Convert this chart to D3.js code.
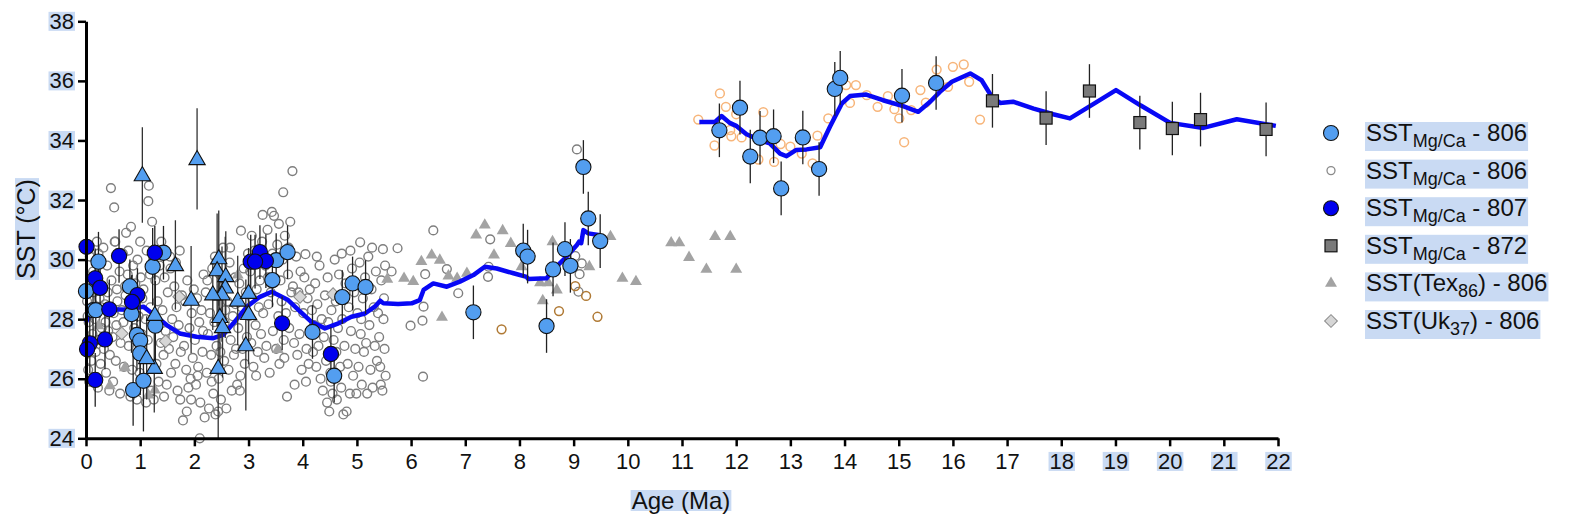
<!DOCTYPE html>
<html>
<head>
<meta charset="utf-8">
<script src="https://cdn.jsdelivr.net/npm/d3@7"></script>
<style>
  html, body { margin: 0; padding: 0; background: #fff; }
  svg { display: block; font-family: "Liberation Sans", Arial, sans-serif; }
</style>
</head>
<body>
<svg id="chart" width="1569" height="525"></svg>
<script>
// ---- Data: [age (Ma), SST (°C), ±error] ----
const mgca806 = [
  [0.0,28.94,0.9],[0.23,29.93,1.0],[0.13,28.3,1.0],[0.18,28.3,1.0],[0.81,29.1,0.9],[0.84,28.17,1.3],
  [0.94,27.47,1.2],[1.0,27.28,1.3],[1.0,26.85,1.4],[0.87,25.62,1.2],[1.06,25.93,1.7],[1.28,27.78,1.5],
  [1.23,29.76,1.3],[1.43,30.23,0.9],[3.44,29.31,0.9],[3.51,29.98,0.9],[3.72,30.25,0.9],[4.18,27.57,0.9],
  [4.58,26.1,0.9],[4.73,28.74,0.9],[4.92,29.2,0.9],[5.16,29.08,0.9],[7.15,28.23,0.9],[8.07,30.3,0.9],
  [8.15,30.1,0.9],[8.5,27.77,0.9],[8.62,29.67,0.9],[8.84,30.35,0.9],[8.94,29.79,0.9],[9.18,33.11,0.9],
  [9.27,31.38,0.9],[9.49,30.62,0.9],[11.69,34.34,0.9],[12.07,35.1,0.9],[12.26,33.46,0.9],[12.44,34.09,0.9],
  [12.69,34.14,0.9],[12.83,32.39,0.9],[13.23,34.1,0.9],[13.53,33.04,0.9],[13.82,35.73,0.9],[13.92,36.1,0.9],
  [15.06,35.5,0.9],[15.69,35.93,0.9]
];

const mgca807 = [
  [0.01,30.43,1.0],[0.17,29.37,1.0],[0.26,29.05,1.0],[0.43,28.33,1.0],[0.35,27.32,1.0],[0.07,27.19,1.0],
  [0.02,26.99,0.9],[0.17,25.96,0.9],[0.61,30.12,0.9],[1.27,30.23,0.9],[0.95,28.81,0.9],[0.85,28.58,0.9],
  [3.04,29.93,0.9],[3.21,30.25,0.9],[3.32,29.95,0.9],[3.12,29.93,0.9],[3.62,27.86,0.9],[4.52,26.83,0.9]
];

const mgca872 = [
  [16.73,35.33,0.9],[17.72,34.75,0.9],[18.52,35.66,0.9],[19.45,34.6,0.9],[20.05,34.4,0.9],
  [20.57,34.7,0.9],[21.78,34.37,0.9]
];

// Planktonic Mg/Ca triangles with wide error bars
const mgcaTri = [
  [1.04,32.84,1.6],[2.05,33.38,1.7],[1.65,29.82,1.5],[1.94,28.66,1.8],[1.26,26.37,1.5],[1.27,28.15,1.6],
  [1.12,26.7,1.4],[2.45,30.05,1.6],[2.42,29.65,1.9],[2.58,29.45,1.5],[2.57,29.07,1.7],[2.51,28.84,1.6],
  [2.34,28.84,1.2],[2.47,28.08,1.6],[2.52,27.74,1.7],[2.44,26.37,2.4],[2.8,28.63,1.5],[3.0,28.89,1.5],
  [3.0,28.18,1.7],[2.95,27.13,2.2]
];

// Open-circle Mg/Ca record, site 806
const mgca806open = [
  [0.02,28.6],[0.05,27.9],[0.08,29.2],[0.1,26.6],[0.12,27.5],[0.04,26.3],[0.14,28.9],[0.07,30.1],[0.11,27.1],[0.13,29.6],[0.03,28.1],[0.06,25.9],
  [0.17,28.0],[0.19,29.5],[0.21,27.3],[0.23,30.2],[0.25,28.7],[0.27,26.5],[0.29,27.7],[0.18,26.9],[0.22,25.7],[0.26,29.9],[0.28,28.4],[0.2,30.6],
  [0.31,29.0],[0.33,27.0],[0.35,28.5],[0.37,26.2],[0.39,29.8],[0.41,27.6],[0.43,25.6],[0.32,30.4],[0.36,27.9],[0.4,28.9],[0.44,26.8],[0.46,32.4],
  [0.47,29.3],[0.49,27.4],[0.51,28.2],[0.53,30.6],[0.55,26.6],[0.57,29.0],[0.52,31.75],[0.5,25.9],[0.56,27.8],[0.58,28.6],[0.54,30.6],
  [0.62,29.6],[0.64,27.2],[0.66,28.3],[0.68,30.2],[0.7,26.4],[0.72,29.1],[0.74,30.9],[0.63,25.5],[0.69,27.9],[0.73,28.8],
  [0.77,29.5],[0.79,27.1],[0.81,28.4],[0.83,31.1],[0.85,26.3],[0.87,29.8],[0.89,27.7],[0.78,30.3],[0.82,25.4],[0.86,28.9],
  [0.91,29.2],[0.93,27.0],[0.95,30.0],[0.97,28.1],[0.99,26.2],[1.01,29.4],[1.03,27.5],[0.94,25.3],[1.0,30.6],[1.04,28.7],
  [1.06,29.0],[1.08,26.8],[1.1,28.0],[1.12,30.3],[1.14,27.3],[1.16,32.48],[1.15,31.96],[1.18,29.5],[1.2,25.6],[1.22,31.27],[1.19,28.4],[1.11,25.2],
  [1.24,30.0],[1.26,27.9],[1.28,29.3],[1.3,26.5],[1.32,28.6],[1.34,25.9],[1.36,29.8],[1.38,27.2],[1.25,25.3],[1.39,30.6],
  [1.41,28.3],[1.43,26.8],[1.45,29.4],[1.47,27.6],[1.49,25.8],[1.51,28.9],[1.53,27.0],[1.55,30.1],[1.57,26.2],[1.59,28.0],[1.44,25.4],[1.56,29.7],
  [1.61,27.4],[1.63,29.1],[1.65,26.5],[1.67,28.4],[1.69,25.6],[1.71,27.8],[1.73,30.3],[1.75,26.9],[1.77,28.8],[1.79,24.6],[1.66,29.9],[1.74,25.3],
  [1.81,27.1],[1.83,28.6],[1.85,26.3],[1.87,29.3],[1.89,25.7],[1.91,27.7],[1.93,26.0],[1.95,28.2],[1.97,26.7],[1.99,29.0],[1.86,24.9],[1.94,25.3],
  [2.01,27.3],[2.03,25.8],[2.05,28.7],[2.07,26.4],[2.09,27.9],[2.1,24.0],[2.11,25.2],[2.13,28.3],[2.15,26.9],[2.17,29.5],[2.19,24.7],[2.06,26.1],[2.16,27.6],
  [2.21,28.9],[2.23,26.2],[2.25,27.5],[2.27,25.0],[2.29,28.2],[2.31,26.8],[2.33,29.7],[2.35,25.5],[2.37,27.9],[2.39,24.8],[2.24,29.3],[2.32,25.9],[2.38,30.1],
  [2.41,27.1],[2.43,28.8],[2.45,26.0],[2.47,29.5],[2.49,25.3],[2.51,27.6],[2.53,30.4],[2.55,26.6],[2.57,28.3],[2.59,25.0],[2.44,24.9],[2.52,29.1],[2.56,27.9],[2.48,26.9],
  [2.61,28.6],[2.63,26.3],[2.65,29.9],[2.67,27.3],[2.69,25.6],[2.71,28.1],[2.73,26.8],[2.75,29.4],[2.77,27.0],[2.79,25.8],[2.66,30.4],[2.76,28.5],
  [2.81,27.7],[2.83,29.2],[2.85,26.1],[2.86,30.97],[2.87,28.4],[2.89,27.0],[2.91,29.7],[2.93,26.5],[2.95,28.9],[2.97,27.4],[2.99,30.2],[2.84,25.6],
  [3.01,28.1],[3.03,29.6],[3.05,27.2],[3.07,28.7],[3.09,26.4],[3.11,30.3],[3.13,27.8],[3.15,29.0],[3.17,26.9],[3.19,28.4],[3.06,30.8],[3.14,26.1],
  [3.21,29.3],[3.23,27.5],[3.25,30.6],[3.27,28.2],[3.29,26.7],[3.31,29.8],[3.33,27.1],[3.35,31.0],[3.37,28.5],[3.39,26.2],[3.26,31.5],[3.36,29.4],
  [3.41,28.9],[3.43,31.6],[3.45,27.6],[3.47,31.47],[3.49,29.9],[3.51,27.0],[3.53,30.5],[3.55,28.1],[3.57,26.5],[3.59,29.3],[3.44,30.2],[3.56,31.2],[3.58,27.8],
  [3.61,28.6],[3.63,30.0],[3.64,32.26],[3.65,27.3],[3.67,30.8],[3.69,28.2],[3.71,25.4],[3.73,29.5],[3.75,27.7],[3.77,31.27],[3.79,28.9],[3.66,26.7],[3.74,30.4],
  [3.81,32.97],[3.82,29.1],[3.84,27.2],[3.86,28.4],[3.88,30.1],[3.9,26.8],[3.92,28.9],[3.94,27.5],[3.96,29.6],[3.98,26.3],[3.85,25.8],
  [4.01,28.2],[4.03,29.4],[4.05,30.18],[4.07,27.0],[4.09,28.7],[4.11,26.5],[4.13,29.0],[4.15,27.6],[4.17,28.3],[4.19,26.9],[4.06,25.9],
  [4.21,27.8],[4.23,29.2],[4.25,26.4],[4.27,28.5],[4.29,27.1],[4.31,29.8],[4.33,26.0],[4.35,28.0],[4.37,25.6],[4.39,27.4],[4.26,30.1],
  [4.41,28.8],[4.43,26.6],[4.45,25.2],[4.47,27.9],[4.49,24.9],[4.51,26.2],[4.53,28.3],[4.55,25.5],[4.57,27.3],[4.59,30.0],[4.46,29.4],[4.52,25.9],[4.58,26.8],
  [4.61,28.6],[4.63,25.3],[4.65,27.7],[4.67,29.5],[4.69,26.4],[4.71,25.7],[4.73,28.0],[4.75,24.8],[4.77,27.1],[4.79,29.2],[4.62,26.9],[4.72,30.2],
  [4.81,24.9],[4.83,26.5],[4.85,28.4],[4.87,25.5],[4.89,27.6],[4.91,29.7],[4.93,26.1],[4.95,28.9],[4.97,27.0],[4.99,25.5],[4.88,30.3],
  [5.01,28.2],[5.03,26.4],[5.05,29.9],[5.06,30.58],[5.07,27.5],[5.09,25.8],[5.11,28.7],[5.13,26.9],[5.15,29.4],[5.17,27.2],[5.19,25.5],[5.08,28.0],
  [5.21,30.1],[5.23,27.8],[5.25,26.3],[5.27,29.0],[5.29,25.7],[5.31,28.4],[5.33,27.1],[5.35,29.6],[5.37,26.6],[5.39,28.2],[5.28,30.4],
  [5.41,27.4],[5.43,26.4],[5.45,29.3],[5.47,25.6],[5.48,30.35],[5.49,28.0],[5.51,27.0],[5.52,29.8],[5.53,26.1],[5.5,28.7],[5.44,25.8],
  [5.64,29.6],[5.75,30.38],[5.99,27.78],[6.21,27.95],[6.23,28.42],[6.26,29.51],[6.22,26.07],[6.41,30.98],
  [6.66,29.68],[6.87,28.87],[7.42,29.42],[7.43,29.76],[7.46,30.68],[9.03,30.12],[9.15,29.87],[9.11,29.51],[9.09,28.92],[9.06,33.7]
];

// Tex86 record, site 806
const tex86 = [
  [6.38,30.15],[6.53,29.98],[6.19,29.93],[5.87,29.37],[6.04,29.26],[5.56,29.34],[6.69,29.45],[6.85,29.37],
  [7.03,29.54],[6.57,28.06],[7.2,30.82],[7.36,31.16],[7.69,30.97],[7.84,30.54],[7.53,30.15],[8.04,29.76],
  [8.61,30.6],[8.38,29.22],[8.53,29.22],[8.69,28.98],[8.43,28.62],[9.29,29.76],[9.68,30.77],[9.9,29.37],
  [10.15,29.26],[10.8,30.56],[10.95,30.56],[11.13,30.07],[11.61,30.77],[11.89,30.77],[11.45,29.67],[12.0,29.67],
  [0.72,26.37],[0.44,25.76],[1.15,25.45],[1.27,25.62],[0.23,27.78],[2.8,29.48],[3.54,26.98]
];

// Uk37 record, site 806
const uk37 = [[0.66,27.52],[1.47,27.26],[1.72,28.75],[3.95,28.75],[4.56,28.84]];

// Additional open-circle records
const orangeOpen = [
  [11.3,34.7],[11.7,35.58],[11.81,35.13],[11.6,33.83],[11.89,34.35],[11.91,34.14],[12.0,34.88],[12.1,34.1],
  [12.41,33.36],[12.5,34.95],[12.7,33.28],[12.82,33.88],[13.0,33.79],[13.21,33.56],[13.41,33.23],[13.5,34.16],
  [13.7,34.74],[14.03,35.86],[14.21,35.86],[14.1,35.26],[14.41,35.52],[14.61,35.13],[14.8,35.49],[14.92,35.05],
  [15.01,34.74],[15.1,33.94],[15.23,35.02],[15.4,35.69],[15.5,35.27],[15.7,36.38],[15.91,35.8],[16.0,36.47],
  [16.2,36.55],[16.3,35.97],[16.5,34.7]
];
const brownOpen = [[7.67,27.66],[8.73,28.27],[9.03,29.11],[9.23,28.78],[9.44,28.08]];

// Smoothed SST stack (two segments)
const stackA = [
  [0,27.9],[0.04,28.05],[0.1,28.2],[0.17,28.25],[0.44,28.33],[0.8,28.32],[1.06,28.42],[1.3,28.08],[1.49,27.8],
  [1.73,27.52],[2.04,27.41],[2.35,27.36],[2.53,27.47],[2.72,27.86],[2.97,28.42],[3.21,28.75],[3.43,28.92],
  [3.73,28.64],[3.92,28.31],[4.16,27.91],[4.41,27.69],[4.66,27.86],[4.9,28.08],[5.15,28.19],[5.33,28.42],
  [5.43,28.62],[5.49,28.53],[5.76,28.51],[6.01,28.53],[6.16,28.64],[6.23,28.98],[6.41,29.2],[6.66,29.09],
  [6.9,29.26],[7.15,29.48],[7.36,29.76],[7.58,29.7],[7.89,29.54],[8.13,29.42],[8.16,29.35],[8.5,29.37],
  [8.62,29.65],[8.87,30.1],[9.06,30.49],[9.1,30.6],[9.14,30.55],[9.18,30.99],[9.27,30.88],[9.49,30.82]
];
const stackB = [
  [11.32,34.62],[11.61,34.62],[11.73,34.82],[11.88,34.59],[12.01,34.48],[12.19,34.21],[12.44,34.01],[12.62,33.9],
  [12.81,33.56],[12.93,33.47],[13.11,33.68],[13.3,33.7],[13.55,33.77],[13.73,34.46],[13.95,35.24],[14.1,35.49],
  [14.4,35.54],[14.71,35.35],[15.08,35.15],[15.36,34.96],[15.58,35.3],[15.76,35.63],[15.98,35.97],[16.32,36.25],
  [16.53,36.02],[16.72,35.46],[16.87,35.26],[17.11,35.3],[17.49,35.07],[17.85,34.88],[18.16,34.74],[18.53,35.15],
  [19.01,35.69],[19.46,35.18],[20.01,34.59],[20.62,34.42],[21.24,34.71],[21.96,34.49]
];

const xTicks = d3.range(0, 23, 1);
const yTicks = [24, 26, 28, 30, 32, 34, 36, 38];
const xTicksMarked = [18, 19, 20, 21, 22];

const legendItems = [
  { sym: "bigLight", main: "SST", sub: "Mg/Ca", rest: " - 806" },
  { sym: "open", main: "SST", sub: "Mg/Ca", rest: " - 806" },
  { sym: "bigDark", main: "SST", sub: "Mg/Ca", rest: " - 807" },
  { sym: "square", main: "SST", sub: "Mg/Ca", rest: " - 872" },
  { sym: "tri", main: "SST(Tex", sub: "86", rest: ") - 806" },
  { sym: "diamond", main: "SST(Uk", sub: "37", rest: ") - 806" }
];

// ---- Drawing ----
const HILITE = "#c9daf3";
const svg = d3.select("#chart");
const x = d3.scaleLinear().domain([0, 22]).range([86, 1278]);
const y = d3.scaleLinear().domain([24, 38]).range([438.3, 21.3]);

const plot = svg.append("g");

const triPath = d3.symbol().type(d3.symbolTriangle);

// open circles, site 806
plot.append("g").selectAll("circle").data(mgca806open).join("circle")
  .attr("cx", d => x(d[0])).attr("cy", d => y(d[1])).attr("r", 4.4)
  .attr("fill", "none").attr("stroke", "#7e7e7e").attr("stroke-width", 1.4);

// Tex86 triangles
plot.append("g").selectAll("path").data(tex86).join("path")
  .attr("transform", d => `translate(${x(d[0])},${y(d[1])})`)
  .attr("d", triPath.size(62)())
  .attr("fill", "#a3a3a3");

// Uk37 diamonds
plot.append("g").selectAll("path").data(uk37).join("path")
  .attr("transform", d => `translate(${x(d[0])},${y(d[1])}) rotate(45)`)
  .attr("d", "M-4.5,-4.5H4.5V4.5H-4.5Z")
  .attr("fill", "#d6d6d6").attr("stroke", "#8a8a8a").attr("stroke-width", 1);

plot.append("g").selectAll("circle").data(orangeOpen).join("circle")
  .attr("cx", d => x(d[0])).attr("cy", d => y(d[1])).attr("r", 4.4)
  .attr("fill", "none").attr("stroke", "#f7b57a").attr("stroke-width", 1.5);

plot.append("g").selectAll("circle").data(brownOpen).join("circle")
  .attr("cx", d => x(d[0])).attr("cy", d => y(d[1])).attr("r", 4.4)
  .attr("fill", "none").attr("stroke", "#b07a35").attr("stroke-width", 1.5);

// smoothed stack
const line = d3.line().x(d => x(d[0])).y(d => y(d[1]));
[stackA, stackB].forEach(seg => {
  plot.append("path").datum(seg).attr("d", line)
    .attr("fill", "none").attr("stroke", "#0808f5").attr("stroke-width", 4.5)
    .attr("stroke-linejoin", "round");
});

// error bars
function errorBars(data, color) {
  plot.append("g").selectAll("line").data(data).join("line")
    .attr("x1", d => x(d[0])).attr("x2", d => x(d[0]))
    .attr("y1", d => y(d[1] - d[2])).attr("y2", d => y(d[1] + d[2]))
    .attr("stroke", color).attr("stroke-width", 1.3);
}
errorBars(mgcaTri, "#333");
errorBars(mgca806, "#222");
errorBars(mgca807, "#222");
errorBars(mgca872, "#222");

// site 872 squares
plot.append("g").selectAll("rect").data(mgca872).join("rect")
  .attr("x", d => x(d[0]) - 6).attr("y", d => y(d[1]) - 6)
  .attr("width", 12).attr("height", 12)
  .attr("fill", "#7a7a7a").attr("stroke", "#111").attr("stroke-width", 1.2);

// site 806 filled circles
plot.append("g").selectAll("circle").data(mgca806).join("circle")
  .attr("cx", d => x(d[0])).attr("cy", d => y(d[1])).attr("r", 7.6)
  .attr("fill", "#539ef0").attr("stroke", "#111").attr("stroke-width", 1.1);

// site 807 circles
plot.append("g").selectAll("circle").data(mgca807).join("circle")
  .attr("cx", d => x(d[0])).attr("cy", d => y(d[1])).attr("r", 7.6)
  .attr("fill", "#0000ee").attr("stroke", "#111").attr("stroke-width", 1.1);

// planktonic triangles
plot.append("g").selectAll("path").data(mgcaTri).join("path")
  .attr("transform", d => `translate(${x(d[0])},${y(d[1]) + 1})`)
  .attr("d", triPath.size(115)())
  .attr("fill", "#539ef0").attr("stroke", "#111").attr("stroke-width", 1.1);

// ---- Axes ----
function hilite(sel) {
  sel.each(function () {
    const b = this.getBBox();
    d3.select(this.parentNode).insert("rect", () => this)
      .attr("x", b.x - 1).attr("y", b.y + 3).attr("width", b.width + 2).attr("height", b.height - 6)
      .attr("fill", HILITE);
  });
}

const xAxis = svg.append("g").attr("transform", "translate(0,438.3)")
  .call(d3.axisBottom(x).tickValues(xTicks).tickSize(8).tickPadding(7).tickSizeOuter(0));
xAxis.select(".domain").attr("stroke", "#000").attr("stroke-width", 3);
xAxis.selectAll(".tick line").attr("stroke", "#000").attr("stroke-width", 2.5);
xAxis.selectAll(".tick text").attr("font-size", 22).attr("fill", "#111")
  .attr("font-family", "'Liberation Sans', Arial, sans-serif");
hilite(xAxis.selectAll(".tick text").filter(d => xTicksMarked.includes(d)));

const yAxis = svg.append("g").attr("transform", "translate(86,0)")
  .call(d3.axisLeft(y).tickValues(yTicks).tickSize(8).tickPadding(4).tickSizeOuter(0));
yAxis.select(".domain").attr("stroke", "#000").attr("stroke-width", 3);
yAxis.selectAll(".tick line").attr("stroke", "#000").attr("stroke-width", 2.5);
yAxis.selectAll(".tick text").attr("font-size", 22).attr("fill", "#111")
  .attr("font-family", "'Liberation Sans', Arial, sans-serif");
hilite(yAxis.selectAll(".tick text"));

// axis titles
const xt = svg.append("text").attr("x", 681).attr("y", 509).attr("text-anchor", "middle")
  .attr("font-size", 24).attr("fill", "#111").text("Age (Ma)");
hilite(xt);
const yt = svg.append("text").attr("transform", "translate(35,229) rotate(-90)")
  .attr("text-anchor", "middle").attr("font-size", 25).attr("fill", "#111").text("SST (°C)");
{
  const b = yt.node().getBBox();
  svg.insert("rect", () => yt.node())
    .attr("transform", "translate(35,229) rotate(-90)")
    .attr("x", b.x - 1).attr("y", b.y + 3).attr("width", b.width + 2).attr("height", b.height - 4)
    .attr("fill", HILITE);
}

// ---- Legend ----
const lg = svg.append("g");
legendItems.forEach((it, i) => {
  const cy = 133 + i * 37.6;
  const g = lg.append("g");
  const sx = 1331;
  if (it.sym === "bigLight" || it.sym === "bigDark") {
    g.append("circle").attr("cx", sx).attr("cy", cy).attr("r", 7.5)
      .attr("fill", it.sym === "bigLight" ? "#539ef0" : "#0000ee").attr("stroke", "#111").attr("stroke-width", 1.1);
  } else if (it.sym === "open") {
    g.append("circle").attr("cx", sx).attr("cy", cy).attr("r", 4)
      .attr("fill", "none").attr("stroke", "#8a8a8a").attr("stroke-width", 1.3);
  } else if (it.sym === "square") {
    g.append("rect").attr("x", sx - 6).attr("y", cy - 6).attr("width", 12).attr("height", 12)
      .attr("fill", "#7a7a7a").attr("stroke", "#111").attr("stroke-width", 1.2);
  } else if (it.sym === "tri") {
    g.append("path").attr("transform", `translate(${sx},${cy})`).attr("d", triPath.size(62)()).attr("fill", "#a3a3a3");
  } else {
    g.append("path").attr("transform", `translate(${sx},${cy}) rotate(45)`)
      .attr("d", "M-4.5,-4.5H4.5V4.5H-4.5Z").attr("fill", "#d6d6d6").attr("stroke", "#8a8a8a").attr("stroke-width", 1);
  }
  const t = g.append("text").attr("x", 1366).attr("y", cy + 8).attr("font-size", 24).attr("fill", "#111");
  t.append("tspan").text(it.main);
  t.append("tspan").attr("font-size", 18).attr("dy", 6).text(it.sub);
  t.append("tspan").attr("dy", -6).text(it.rest);
  const b = t.node().getBBox();
  g.insert("rect", () => t.node()).attr("x", b.x - 1).attr("y", b.y + 3)
    .attr("width", b.width + 2).attr("height", b.height - 3).attr("fill", HILITE);
});
</script>
</body>
</html>
